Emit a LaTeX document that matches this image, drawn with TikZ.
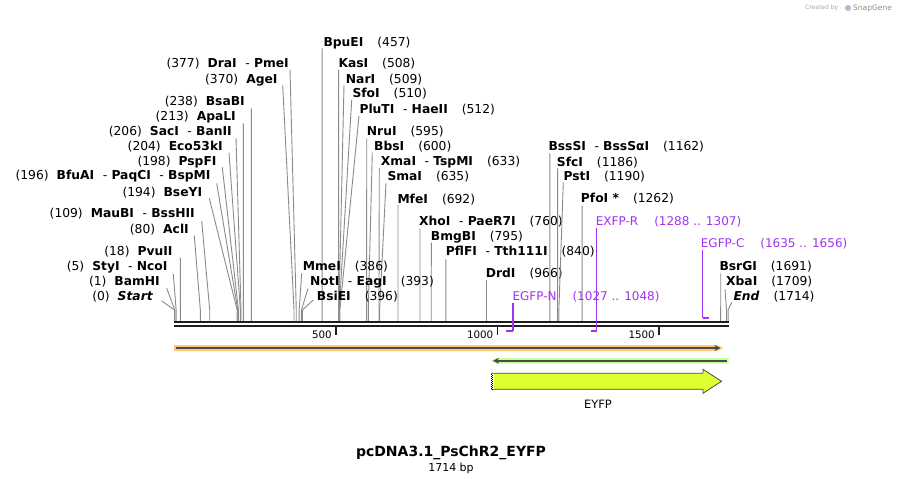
\documentclass[tikz,border=0pt]{standalone}
\usepackage{fontspec}
\setmainfont{DejaVu Sans}
\usetikzlibrary{arrows.meta}
\definecolor{leadc}{HTML}{8A8A8A}
\definecolor{primc}{RGB}{160,50,240}
\definecolor{bandor}{RGB}{255,200,120}
\definecolor{bandgr}{RGB}{195,255,145}
\definecolor{eyfpc}{RGB}{224,255,48}
\definecolor{darkl}{HTML}{4A4A4A}
\definecolor{barc}{HTML}{1E1E1E}
\newcommand\sepd{\ \ {\mdseries -}\ }
\newcommand\lsite[7]{%
  \node[lbl, anchor=east] (#1) at (#3,#4) {#2};
  \coordinate (#1-t) at (#5,#6);
  \coordinate (#1-b) at ({174.5+0.323*#7},310);
  \coordinate (#1-s) at ({174.5+0.323*#7},321);
  \draw[leader] (#1-t) -- (#1-b) -- (#1-s);}
\newcommand\rsite[7]{%
  \node[lbl, anchor=west] (#1) at (#3,#4) {#2};
  \coordinate (#1-t) at (#5,#6);
  \coordinate (#1-b) at ({174.5+0.323*#7},310);
  \coordinate (#1-s) at ({174.5+0.323*#7},321);
  \draw[leader] (#1-t) -- (#1-b) -- (#1-s);}
\tikzset{
  lbl/.style={inner sep=0pt, font=\fontsize{12.3}{14}\selectfont},
  leader/.style={draw=leadc, line width=0.9pt},
  prim/.style={draw=primc, line width=1.3pt},
  primh/.style={draw=primc, line width=2pt},
  primlbl/.style={inner sep=0pt, text=primc, font=\fontsize{12}{14}\selectfont, anchor=west},
  barline/.style={line width=2.3pt, draw=barc},
  tickmark/.style={line width=1.6pt, draw=barc},
  ticklbl/.style={inner sep=0pt, font=\fontsize{10.3}{12}\selectfont, anchor=east},
}
\begin{document}
\begin{tikzpicture}[x=1pt,y=-1pt]
\path[use as bounding box] (0,0) rectangle (902,484);

% credit
\node[inner sep=0pt, anchor=west, text=black!35, font=\fontsize{6}{7}\selectfont] (cby) at (805,8) {Created by};
\node[inner sep=0pt, anchor=west, text=black!45, font=\fontsize{7.5}{9}\selectfont] (sg) at (853,8) {SnapGene};
\node[circle, fill={rgb,255:red,170;green,190;blue,210}, inner sep=0pt, minimum size=6pt] (sgi) at (848,8) {};

% left sites
\lsite{Start}{(0)\hspace{8pt}\textbf{\textit{Start}}}{153.3}{296.7}{161.7}{301}{0}
\lsite{BamHI}{(1)\hspace{8pt}\textbf{BamHI}}{160}{281.7}{166.7}{288.3}{1}
\lsite{StyI}{(5)\hspace{8pt}\textbf{StyI\sepd NcoI}}{167.7}{267.3}{173.3}{274}{5}
\lsite{PvuII}{(18)\hspace{8pt}\textbf{PvuII}}{172.7}{251.7}{180.3}{257.7}{18}
\lsite{AclI}{(80)\hspace{8pt}\textbf{AclI}}{189}{229.3}{194.3}{235.7}{80}
\lsite{MauBI}{(109)\hspace{8pt}\textbf{MauBI\sepd BssHII}}{195}{213.3}{201.7}{221}{109}
\lsite{BseYI}{(194)\hspace{8pt}\textbf{BseYI}}{202.3}{192.7}{209.3}{198.3}{194}
\lsite{BfuAI}{(196)\hspace{8pt}\textbf{BfuAI\sepd PaqCI\sepd BspMI}}{210.7}{176.3}{216.7}{183.3}{196}
\lsite{PspFI}{(198)\hspace{8pt}\textbf{PspFI}}{216.7}{162.3}{222.3}{167.3}{198}
\lsite{Eco53kI}{(204)\hspace{8pt}\textbf{Eco53kI}}{223}{146.7}{229}{152.7}{204}
\lsite{SacI}{(206)\hspace{8pt}\textbf{SacI\sepd BanII}}{232}{131.7}{236}{138}{206}
\lsite{ApaLI}{(213)\hspace{8pt}\textbf{ApaLI}}{236}{117.3}{243.3}{123.3}{213}
\lsite{BsaBI}{(238)\hspace{8pt}\textbf{BsaBI}}{245}{101.7}{251.4}{108.3}{238}
\lsite{AgeI}{(370)\hspace{8pt}\textbf{AgeI}}{277.7}{80}{282.7}{85}{370}
\lsite{DraI}{(377)\hspace{8pt}\textbf{DraI\sepd PmeI}}{289}{64}{290}{69.3}{377}

% right sites
\rsite{BpuEI}{\textbf{BpuEI}\hspace{14pt}(457)}{323.3}{42.7}{322.1}{48.3}{457}
\rsite{KasI}{\textbf{KasI}\hspace{14pt}(508)}{338.3}{64}{338.6}{70}{508}
\rsite{NarI}{\textbf{NarI}\hspace{14pt}(509)}{345.7}{80}{344}{85}{509}
\rsite{SfoI}{\textbf{SfoI}\hspace{14pt}(510)}{352.3}{93.7}{351.7}{100}{510}
\rsite{PluTI}{\textbf{PluTI\sepd HaeII}\hspace{14pt}(512)}{359.3}{109.3}{359}{115.7}{512}
\rsite{NruI}{\textbf{NruI}\hspace{14pt}(595)}{366.7}{131.7}{366.7}{138.3}{595}
\rsite{BbsI}{\textbf{BbsI}\hspace{14pt}(600)}{374}{146.7}{372.3}{152.7}{600}
\rsite{XmaI}{\textbf{XmaI\sepd TspMI}\hspace{14pt}(633)}{380.7}{161.7}{379.3}{168.3}{633}
\rsite{SmaI}{\textbf{SmaI}\hspace{14pt}(635)}{387.3}{176.7}{386}{183}{635}
\rsite{MfeI}{\textbf{MfeI}\hspace{14pt}(692)}{397.3}{199.3}{398}{205}{692}
\rsite{XhoI}{\textbf{XhoI\sepd PaeR7I}\hspace{14pt}(760)}{419}{221.7}{420}{228.3}{760}
\rsite{BmgBI}{\textbf{BmgBI}\hspace{14pt}(795)}{430.7}{236.7}{431.3}{242.7}{795}
\rsite{PflFI}{\textbf{PflFI\sepd Tth111I}\hspace{14pt}(840)}{445.7}{251.3}{445.8}{259.3}{840}
\rsite{DrdI}{\textbf{DrdI}\hspace{14pt}(966)}{485.7}{274}{486.5}{280}{966}
\rsite{MmeI}{\textbf{MmeI}\hspace{14pt}(386)}{302.7}{266.7}{301.7}{273.3}{386}
\rsite{NotI}{\textbf{NotI\sepd EagI}\hspace{14pt}(393)}{310}{281.7}{308}{288.5}{393}
\rsite{BsiEI}{\textbf{BsiEI}\hspace{14pt}(396)}{316.7}{296.7}{313.3}{300}{396}
\rsite{BssSI}{\textbf{BssSI\sepd BssSαI}\hspace{14pt}(1162)}{548.3}{146.7}{549.8}{153.3}{1162}
\rsite{SfcI}{\textbf{SfcI}\hspace{14pt}(1186)}{556.7}{162.3}{557.6}{168.3}{1186}
\rsite{PstI}{\textbf{PstI}\hspace{14pt}(1190)}{563.3}{176.7}{563.3}{182.3}{1190}
\rsite{PfoI}{\textbf{PfoI *}\hspace{14pt}(1262)}{580.7}{199}{582.1}{205.7}{1262}
\rsite{BsrGI}{\textbf{BsrGI}\hspace{14pt}(1691)}{719.3}{266.7}{720.7}{273.3}{1691}
\rsite{XbaI}{\textbf{XbaI}\hspace{14pt}(1709)}{726}{281.7}{725}{289}{1709}
\rsite{End}{\textbf{\textit{End}}\hspace{14pt}(1714)}{733.3}{296.7}{731.7}{302.3}{1714}

% sequence bar
\coordinate (barL1) at (174,322.2);
\coordinate (barR1) at (728.5,322.2);
\coordinate (barL2) at (174,326.2);
\coordinate (barR2) at (728.5,326.2);
\draw[barline] (barL1) -- (barR1);
\draw[barline] (barL2) -- (barR2);

% ticks
\foreach \t/\x in {500/336, 1000/497.5, 1500/659}{
  \coordinate (tk\t a) at (\x,327);
  \coordinate (tk\t b) at (\x,334.5);
  \draw[tickmark] (tk\t a) -- (tk\t b);
  \node[ticklbl] (tl\t) at (\x-4,335) {\t};
}

% primers
\node[primlbl] (egfpn) at (512.3,296.7) {EGFP-N\hspace{16pt}(1027 .. 1048)};
\coordinate (egfpn-t) at (513,302.5);
\coordinate (egfpn-b) at (513,331.3);
\coordinate (egfpn-e) at (506.2,331.3);
\draw[prim] (egfpn-t) -- (egfpn-b);
\draw[primh] (egfpn-b) -- (egfpn-e);

\node[primlbl] (exfpr) at (595.7,221.7) {EXFP-R\hspace{16pt}(1288 .. 1307)};
\coordinate (exfpr-t) at (596.7,228.3);
\coordinate (exfpr-b) at (596.7,331.3);
\coordinate (exfpr-e) at (590.5,331.3);
\draw[prim] (exfpr-t) -- (exfpr-b);
\draw[primh] (exfpr-b) -- (exfpr-e);

\node[primlbl] (egfpc) at (700.7,244) {EGFP-C\hspace{16pt}(1635 .. 1656)};
\coordinate (egfpc-t) at (702.6,250);
\coordinate (egfpc-b) at (702.6,317.6);
\coordinate (egfpc-e) at (709.4,317.6);
\draw[prim] (egfpc-t) -- (egfpc-b);
\draw[primh] (egfpc-b) -- (egfpc-e);

% orange feature arrow
\fill[bandor] (174,345) -- (717,345) -- (723.5,348) -- (717,351) -- (174,351) -- cycle;
\coordinate (orA) at (176,348);
\coordinate (orB) at (720.5,348);
\draw[darkl, line width=2pt, -{Stealth[length=6pt,width=6pt]}] (orA) -- (orB);

% green feature arrow
\fill[bandgr] (497,358) -- (728.5,358) -- (728.5,363.6) -- (497,363.6) -- (490.5,360.8) -- cycle;
\coordinate (grA) at (726.5,360.8);
\coordinate (grB) at (493,360.8);
\draw[darkl, line width=2pt, -{Stealth[length=6pt,width=6pt]}] (grA) -- (grB);

% EYFP arrow
\fill[eyfpc] (491,373.3) -- (703,373.3) -- (703,369.3) -- (721.5,381.3) -- (703,393.3) -- (703,389.3) -- (491,389.3) -- cycle;
\draw[darkl, line width=0.8pt, line join=miter] (491,373.3) -- (703,373.3) -- (703,369.3) -- (721.5,381.3) -- (703,393.3) -- (703,389.3) -- (491,389.3);
\fill[white] (491.3,373.7) rectangle (493.5,388.9);
\draw[black, line width=1pt, dash pattern=on 1pt off 1pt] (491.8,373.7) -- (491.8,388.9);
\draw[black, line width=1pt, dash pattern=on 1pt off 1pt, dash phase=1pt] (492.9,373.7) -- (492.9,388.9);
\node[inner sep=0pt, font=\fontsize{11.5}{13}\selectfont] (eyfp) at (598,404) {EYFP};

% title
\node[inner sep=0pt, font=\bfseries\fontsize{14}{16}\selectfont] (title) at (451,453.3) {pcDNA3.1\_PsChR2\_EYFP};
\node[inner sep=0pt, font=\fontsize{11}{13}\selectfont] (bp) at (451,468.3) {1714 bp};
\end{tikzpicture}
\end{document}
